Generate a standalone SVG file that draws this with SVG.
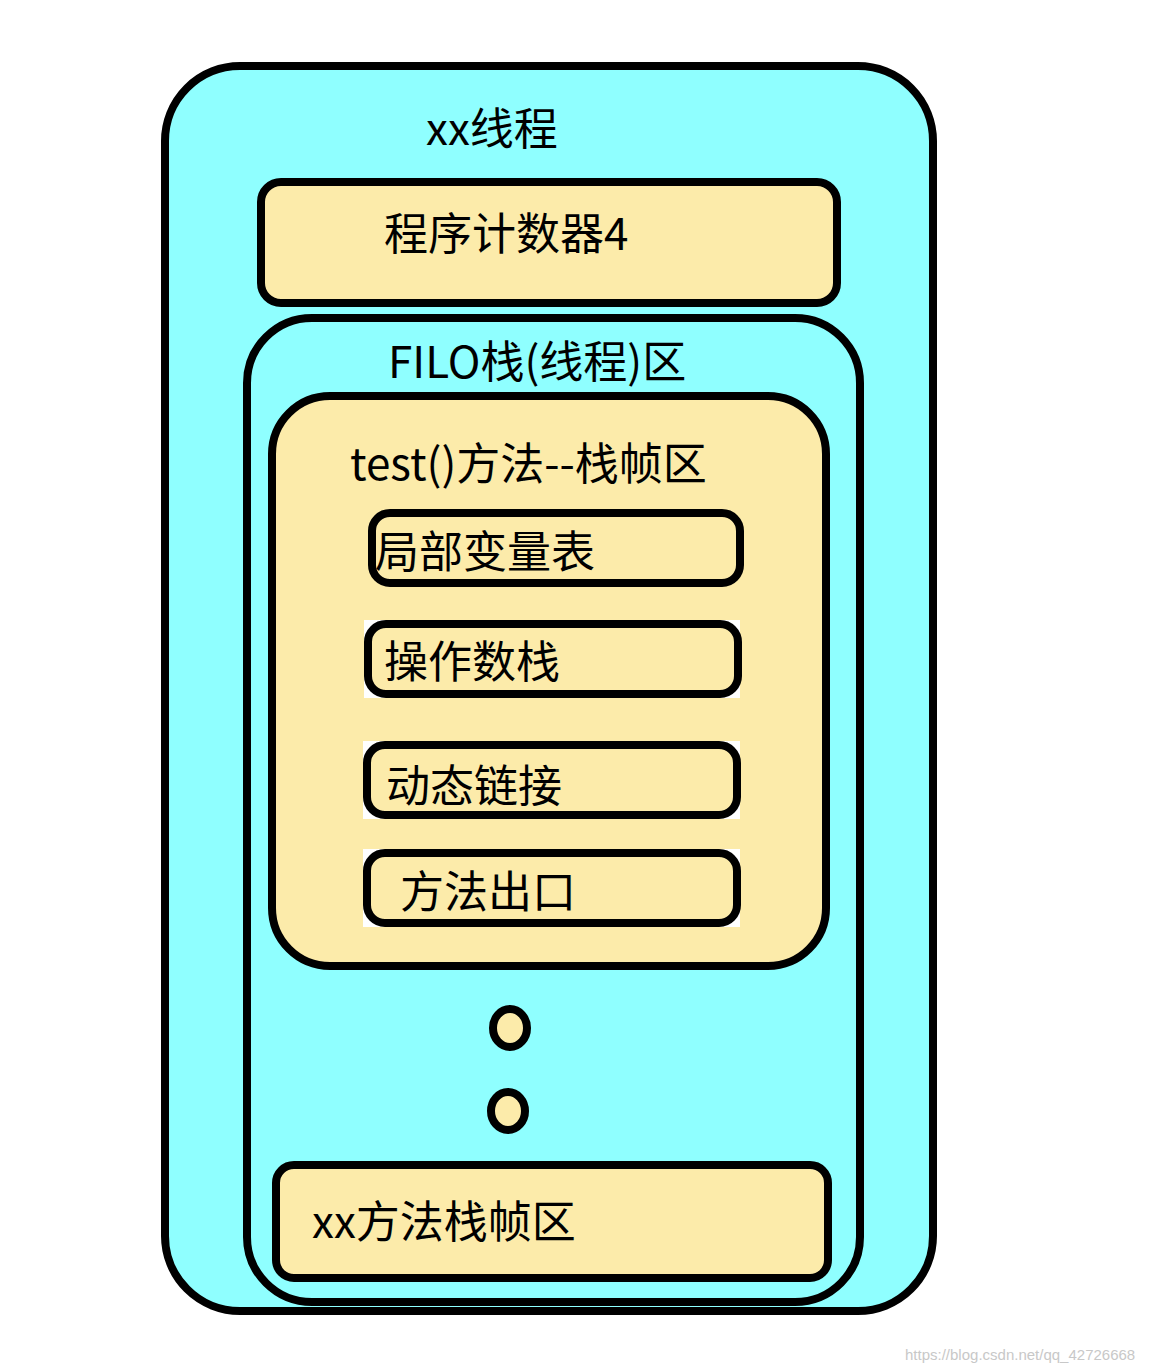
<svg xmlns="http://www.w3.org/2000/svg" width="1157" height="1371" viewBox="0 0 1157 1371">
<style>
.c{fill:#8fffff;stroke:#000;stroke-width:8}
.y{fill:#fcebaa;stroke:#000;stroke-width:8}
.t{font-family:"Noto Sans CJK SC","Noto Sans",sans-serif;font-size:44px;fill:#000}
</style>
<rect width="1157" height="1371" fill="#fff"/>
<g id="thread"><rect class="c" x="165" y="66" width="768" height="1245" rx="75"/>
<text class="t" x="426" y="145">xx线程</text></g>
<g id="pc"><rect class="y" x="261" y="182" width="576" height="121" rx="20"/>
<text class="t" x="384" y="250">程序计数器4</text></g>
<g id="stack"><rect class="c" x="247" y="318" width="613" height="984" rx="65"/>
<text class="t" x="388" y="378">FILO栈(线程)区</text></g>
<g id="frame"><rect class="y" x="272" y="396" width="554" height="570" rx="58"/>
<text class="t" x="350" y="480">test()方法--栈帧区</text></g>
<g id="lv"><rect class="y" x="372" y="513" width="368" height="70" rx="18"/>
<text class="t" x="375" y="568">局部变量表</text></g>
<g id="ops"><rect x="364" y="620" width="376" height="78" fill="#fff"/><rect class="y" x="368" y="624" width="370" height="70" rx="18"/>
<text class="t" x="384" y="678">操作数栈</text></g>
<g id="dyn"><rect x="363" y="741" width="377" height="78" fill="#fff"/><rect class="y" x="367" y="745" width="370" height="70" rx="18"/>
<text class="t" x="386" y="802">动态链接</text></g>
<g id="ret"><rect x="363" y="849" width="377" height="78" fill="#fff"/><rect class="y" x="367" y="853" width="370" height="70" rx="18"/>
<text class="t" x="400" y="908">方法出口</text></g>
<g id="dots"><ellipse class="y" cx="510" cy="1028" rx="17" ry="19"/><ellipse class="y" cx="508" cy="1111" rx="17" ry="19"/></g>
<g id="xxframe"><rect class="y" x="276" y="1165" width="552" height="113" rx="18"/>
<text class="t" x="312" y="1238">xx方法栈帧区</text></g>
<g id="connectors"/>
<text x="905" y="1360" font-family="Liberation Sans,sans-serif" font-size="15" fill="#c8c8c8">https://blog.csdn.net/qq_42726668</text>
</svg>
